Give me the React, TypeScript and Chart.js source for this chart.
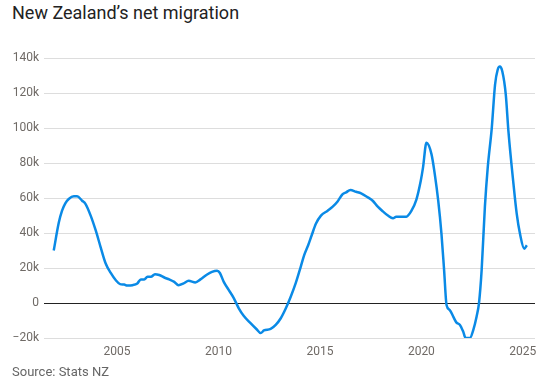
import React, { useEffect, useRef } from "react";
import { Chart, registerables } from "chart.js";

Chart.register(...registerables);

const years = [
  2001.88, 2002.13, 2002.29, 2002.45, 2002.62, 2002.87, 2003.03, 2003.28, 2003.45, 2003.7,
  2003.95, 2004.19, 2004.44, 2004.69, 2004.94, 2005.15, 2005.35, 2005.5, 2005.76, 2006.0,
  2006.17, 2006.34, 2006.5, 2006.67, 2006.87, 2007.08, 2007.33, 2007.57, 2007.82, 2008.03,
  2008.28, 2008.53, 2008.86, 2009.11, 2009.44, 2009.68, 2009.93, 2010.07, 2010.26, 2010.51,
  2010.76, 2011.0, 2011.25, 2011.58, 2011.88, 2012.08, 2012.24, 2012.57, 2012.82, 2013.07,
  2013.32, 2013.56, 2013.81, 2014.06, 2014.22, 2014.42, 2014.59, 2014.8, 2015.05, 2015.38,
  2015.63, 2015.87, 2016.12, 2016.29, 2016.5, 2016.78, 2017.03, 2017.36, 2017.6, 2017.85,
  2018.1, 2018.35, 2018.6, 2018.76, 2019.0, 2019.26, 2019.5, 2019.75, 2019.97, 2020.08,
  2020.25, 2020.5, 2020.66, 2020.83, 2020.99, 2021.12, 2021.24, 2021.4, 2021.57, 2021.73,
  2021.9, 2022.06, 2022.18, 2022.39, 2022.56, 2022.72, 2022.84, 2022.97, 2023.13, 2023.27,
  2023.47, 2023.63, 2023.76, 2023.87, 2023.99, 2024.16, 2024.29, 2024.54, 2024.7, 2024.86,
  2025.07, 2025.2,
];

const netMigration = [
  30000, 46000, 52800, 57000, 59500, 61000, 61000, 58500, 56600, 50000,
  41500, 32000, 22600, 17200, 13000, 10800, 10600, 10000, 10200, 11200,
  13500, 13500, 15000, 15000, 16500, 16000, 14600, 13500, 12100, 10200,
  11200, 12700, 11800, 13500, 16300, 17800, 18400, 17200, 12100, 7400,
  2700, -3000, -7400, -11500, -15000, -17200, -15700, -14800, -12500, -8700,
  -3000, 3600, 11500, 21000, 27300, 33000, 38600, 45300, 50000, 52800,
  55100, 58100, 62300, 63300, 64600, 63600, 62700, 60400, 58500, 55100,
  52400, 50000, 48500, 49400, 49400, 49400, 52500, 59000, 69900, 77400,
  91600, 85000, 73700, 58500, 39600, 18800, -1100, -4000, -7800, -11200,
  -12500, -16300, -20000, -20000, -15300, -7800, 0, 18800, 55000, 77400,
  100200, 124800, 133400, 135200, 132400, 119200, 98300, 68000, 51000, 39600,
  31100, 33000,
];

const xTickYears = [2005, 2010, 2015, 2020, 2025];
const yTickValues = [-20000, 0, 20000, 40000, 60000, 80000, 100000, 120000, 140000];

const title = "New Zealand\u2019s net migration";
const source = "Source: Stats NZ";

export default function App() {
  const ref = useRef<HTMLCanvasElement | null>(null);

  useEffect(() => {
    if (!ref.current) return;
    const chart = new Chart(ref.current, {
      type: "line",
      data: {
        datasets: [
          {
            data: years.map((x, i) => ({ x, y: netMigration[i] })),
            borderColor: "#0a8ae6",
            borderWidth: 2.5,
            pointRadius: 0,
            fill: false,
            cubicInterpolationMode: "monotone",
          },
        ],
      },
      options: {
        animation: false,
        responsive: false,
        maintainAspectRatio: false,
        layout: { padding: { top: 10, right: 10, left: 0, bottom: 0 } },
        plugins: { legend: { display: false }, tooltip: { enabled: false }, title: { display: false } },
        scales: {
          x: {
            type: "linear",
            min: 2001.4,
            max: 2025.6,
            grid: { display: false, drawTicks: false },
            border: { display: false },
            afterBuildTicks: (s: any) => {
              s.ticks = xTickYears.map((v) => ({ value: v }));
            },
            afterFit: (s: any) => {
              s.height = 28;
            },
            ticks: {
              padding: 7,
              maxRotation: 0,
              autoSkip: false,
              color: "#6f6a66",
              font: { family: "Roboto", size: 12 },
              callback: (v: any) => String(v),
            },
          },
          y: {
            min: -20000,
            max: 140000,
            afterBuildTicks: (s: any) => {
              s.ticks = yTickValues.map((v) => ({ value: v }));
            },
            afterFit: (s: any) => {
              s.width = 44;
            },
            grid: {
              drawTicks: false,
              color: (ctx: any) => (ctx.tick && ctx.tick.value === 0 ? "#222222" : "#dddddd"),
              lineWidth: 1,
            },
            border: { display: false },
            ticks: {
              padding: 5,
              color: "#6f6a66",
              font: { family: "Roboto", size: 12 },
              callback: (v: any) => {
                const n = Number(v);
                if (n === 0) return "0";
                return (n < 0 ? "\u2212" : "") + Math.abs(n) / 1000 + "k";
              },
            },
          },
        },
      },
    });
    return () => chart.destroy();
  }, []);

  return (
    <div
      style={{
        position: "fixed",
        left: 0,
        top: 0,
        width: 545,
        height: 381,
        background: "#ffffff",
        overflow: "hidden",
      }}
    >
      <div
        style={{
          position: "absolute",
          left: 12,
          top: 2,
          fontFamily: "Roboto, sans-serif",
          fontSize: 18,
          lineHeight: "22px",
          color: "#222222",
          whiteSpace: "nowrap",
        }}
      >
        {title}
      </div>
      <canvas
        ref={ref}
        width={545}
        height={320}
        style={{ position: "absolute", left: 0, top: 46, width: 545, height: 320 }}
      />
      <div
        style={{
          position: "absolute",
          left: 12,
          top: 363,
          fontFamily: "Roboto, sans-serif",
          fontSize: 13,
          lineHeight: "17px",
          color: "#666666",
          whiteSpace: "nowrap",
        }}
      >
        {source}
      </div>
    </div>
  );
}
